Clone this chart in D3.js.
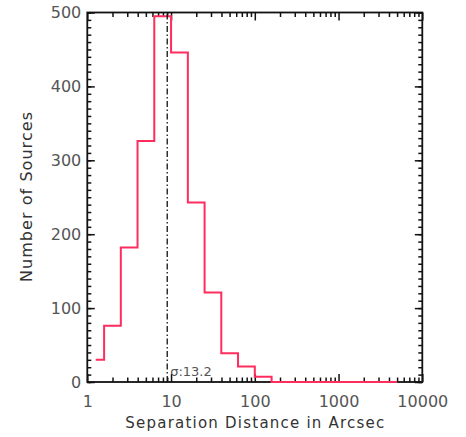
<!DOCTYPE html>
<html>
<head>
<meta charset="utf-8">
<script src="https://cdn.jsdelivr.net/npm/d3@7"></script>
<style>
    body { margin: 0; background: #fff; }
    svg { display: block; }
</style>
</head>
<body>
<div class="chart"></div>
<script>
// bin centres (arcsec, 0.2 dex bins) and counts
var binCenters = [1.26, 2.0, 3.16, 5.01, 7.94, 12.6, 20.0, 31.6, 50.1, 79.4, 126, 200, 316, 501, 794, 1259, 1995, 3162, 5012];
var counts = [30, 76, 182, 326, 495, 446, 243, 121, 39, 21, 7, 0, 0, 0, 0, 0, 0, 0, 0];

var xMajorTicks = [1, 10, 100, 1000, 10000];
var xMinorTicks = [2, 3, 4, 5, 6, 7, 8, 9, 20, 30, 40, 50, 60, 70, 80, 90,
    200, 300, 400, 500, 600, 700, 800, 900, 2000, 3000, 4000, 5000, 6000, 7000, 8000, 9000];
var yMajorTicks = [0, 100, 200, 300, 400, 500];
var yMinorTicks = d3.range(0, 501, 10);

var medianSep = 9.0;
var sigmaLabel = "\u03c3:13.2";

var width = 466,
    height = 437,
    plotLeft = 87.3,
    plotRight = 422.3,
    plotTop = 12.5,
    plotBottom = 382;

var svg = d3.select(".chart")
    .append("svg")
    .attr("width", width)
    .attr("height", height)
    .style("font-family", "'DejaVu Sans', sans-serif");

var x = d3.scaleLog().domain([1, 10000]).range([plotLeft, plotRight]);
var y = d3.scaleLinear().domain([0, 500]).range([plotBottom, plotTop]);

function styleAxis(g) {
    g.select(".domain").remove();
    g.selectAll(".tick line").attr("stroke", "#111").attr("stroke-width", 1.5);
    g.selectAll(".tick text")
        .attr("fill", "#555")
        .style("font-size", "16px")
        .style("font-family", "'DejaVu Sans', sans-serif");
}

// bottom axis
svg.append("g")
    .attr("transform", "translate(0," + plotBottom + ")")
    .call(d3.axisBottom(x).tickValues(xMinorTicks).tickSize(-4.5).tickFormat(""))
    .call(styleAxis);
svg.append("g")
    .attr("transform", "translate(0," + plotBottom + ")")
    .call(d3.axisBottom(x).tickValues(xMajorTicks).tickSize(-8).tickPadding(14).tickFormat(d3.format("d")))
    .call(styleAxis);

// top axis
svg.append("g")
    .attr("transform", "translate(0," + plotTop + ")")
    .call(d3.axisTop(x).tickValues(xMinorTicks).tickSize(-4.5).tickFormat(""))
    .call(styleAxis);
svg.append("g")
    .attr("transform", "translate(0," + plotTop + ")")
    .call(d3.axisTop(x).tickValues(xMajorTicks).tickSize(-8).tickFormat(""))
    .call(styleAxis);

// left axis
svg.append("g")
    .attr("transform", "translate(" + plotLeft + ",0)")
    .call(d3.axisLeft(y).tickValues(yMinorTicks).tickSize(-4).tickFormat(""))
    .call(styleAxis);
svg.append("g")
    .attr("transform", "translate(" + plotLeft + ",0)")
    .call(d3.axisLeft(y).tickValues(yMajorTicks).tickSize(-7.5).tickPadding(6).tickFormat(d3.format("d")))
    .call(styleAxis);

// right axis
svg.append("g")
    .attr("transform", "translate(" + plotRight + ",0)")
    .call(d3.axisRight(y).tickValues(yMinorTicks).tickSize(-4).tickFormat(""))
    .call(styleAxis);
svg.append("g")
    .attr("transform", "translate(" + plotRight + ",0)")
    .call(d3.axisRight(y).tickValues(yMajorTicks).tickSize(-7.5).tickFormat(""))
    .call(styleAxis);

// frame
svg.append("rect")
    .attr("x", plotLeft)
    .attr("y", plotTop)
    .attr("width", plotRight - plotLeft)
    .attr("height", plotBottom - plotTop)
    .attr("fill", "none")
    .attr("stroke", "#111")
    .attr("stroke-width", 1.8);

// histogram (IDL psym=10 style steps)
var line = d3.line()
    .curve(d3.curveStep)
    .x(function (d, i) { return x(binCenters[i]); })
    .y(function (d) { return y(d); });

svg.append("path")
    .datum(counts)
    .attr("d", line)
    .attr("fill", "none")
    .attr("stroke", "#ff2d5e")
    .attr("stroke-width", 2);

// median line
svg.append("line")
    .attr("x1", x(medianSep))
    .attr("x2", x(medianSep))
    .attr("y1", plotBottom)
    .attr("y2", plotTop)
    .attr("stroke", "#111")
    .attr("stroke-width", 1.3)
    .attr("stroke-dasharray", "6,2.5,1.5,2.5");

svg.append("text")
    .attr("x", x(medianSep) + 3)
    .attr("y", plotBottom - 6)
    .attr("fill", "#555")
    .style("font-size", "13px")
    .text(sigmaLabel);

// axis titles
svg.append("text")
    .attr("x", (plotLeft + plotRight) / 2)
    .attr("y", 428)
    .attr("text-anchor", "middle")
    .attr("fill", "#333")
    .attr("textLength", 259)
    .attr("lengthAdjust", "spacing")
    .style("font-size", "15px")
    .text("Separation Distance in Arcsec");

svg.append("text")
    .attr("transform", "translate(32,197) rotate(-90)")
    .attr("text-anchor", "middle")
    .attr("fill", "#333")
    .attr("textLength", 170)
    .attr("lengthAdjust", "spacing")
    .style("font-size", "16px")
    .text("Number of Sources");
</script>
</body>
</html>
